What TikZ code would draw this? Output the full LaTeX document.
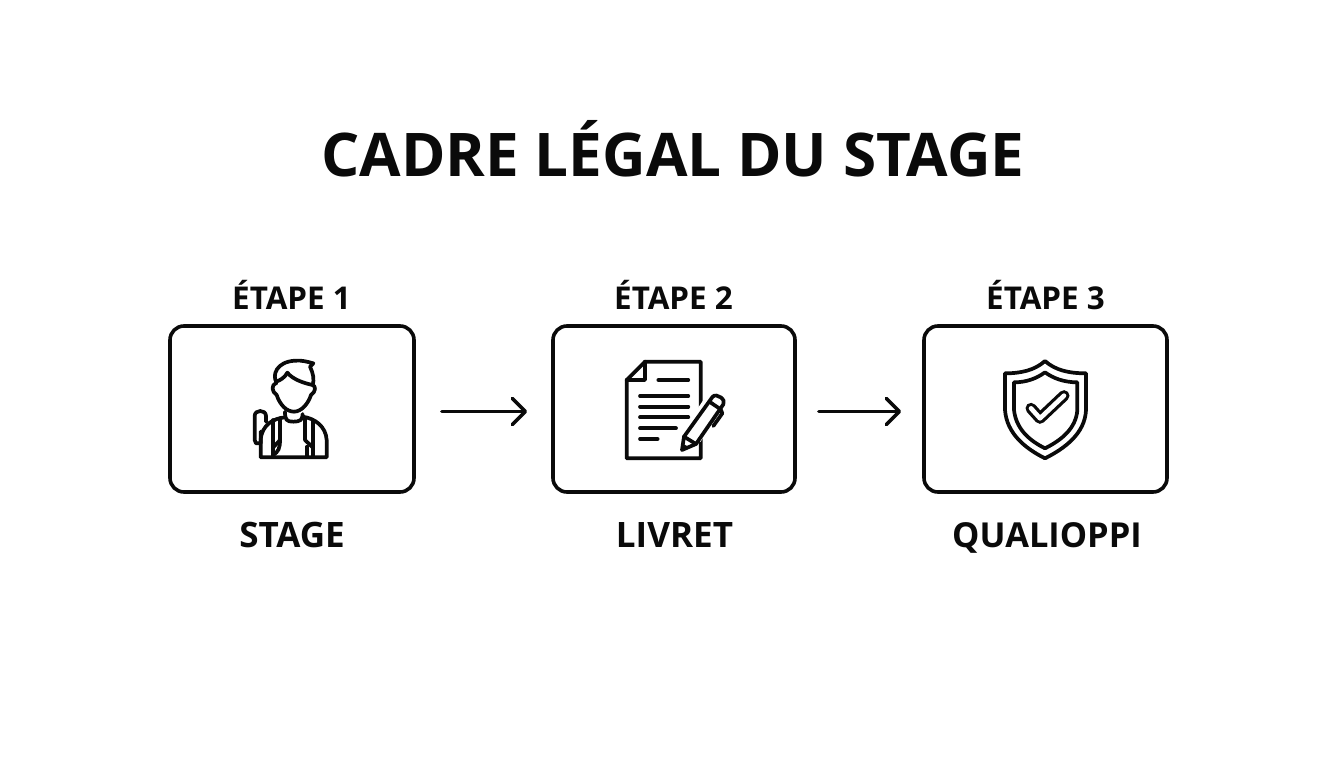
\documentclass[tikz,border=0pt]{standalone}
\usepackage{fontspec}
\setmainfont{Open Sans}
\usetikzlibrary{arrows.meta}
\definecolor{ink}{HTML}{0A0A0A}
\tikzset{
  framebox/.style={draw=ink,line width=3.6pt,rounded corners=14pt,minimum height=166pt,inner sep=0pt,fill=white},
  lab/.style={text=ink,font=\bfseries\fontsize{31.4}{34}\selectfont,inner sep=0pt,anchor=base},
  sublab/.style={text=ink,font=\bfseries\fontsize{35}{38}\selectfont,inner sep=0pt,anchor=base},
  flow/.style={draw=ink,line width=3.6pt,line cap=round,-{Straight Barb[length=13pt,width=26pt,line width=3.6pt,round]}},
  ico/.style={draw=ink,line width=3.7pt,line cap=round,line join=round},
  zoomed/.style={x=0.33333pt,y=-0.33333pt}
}
\begin{document}
\begin{tikzpicture}[x=1pt,y=-1pt]
\useasboundingbox (0,0) rectangle (1344,768);
\fill[white] (0,0) rectangle (1344,768);
\node[text=ink,font=\bfseries\fontsize{60.2}{66}\selectfont,inner sep=0pt,anchor=base] (title) at (673,176) {CADRE LÉGAL DU STAGE};

\node[framebox,minimum width=244pt] (b1) at (292,409) {};
\node[framebox,minimum width=242pt] (b2) at (674,409) {};
\node[framebox,minimum width=243pt] (b3) at (1045.5,409) {};

\node[lab] (e1) at (291.5,309.5) {ÉTAPE 1};
\node[lab] (e2) at (673.5,309.5) {ÉTAPE 2};
\node[lab] (e3) at (1045.5,309.5) {ÉTAPE 3};
\node[sublab] (l1) at (292,547) {STAGE};
\node[sublab] (l2) at (674.5,547) {LIVRET};
\node[sublab,font=\bfseries\fontsize{34.4}{38}\selectfont] (l3) at (1047,547) {QUALIOPPI};

\draw[flow,shorten <=26pt,shorten >=24pt] ([yshift=-2.5pt]b1.east) -- ([yshift=-2.5pt]b2.west);
\draw[flow,shorten <=22pt,shorten >=21pt] ([yshift=-2.5pt]b2.east) -- ([yshift=-2.5pt]b3.west);

% student
\begin{scope}[shift={(230,340)},zoomed]
  \draw[ico] (140,128) .. controls (125,105) and (140,65) .. (195,62) .. controls (215,60) and (235,66) .. (250,70) -- (240,80) .. controls (250,100) and (253,120) .. (248,135);
  \draw[ico] (137,125) .. controls (150,122) and (165,112) .. (172,98) .. controls (190,120) and (225,130) .. (248,135);
  \draw[ico] (140,128) .. controls (122,135) and (125,155) .. (140,165) .. controls (150,195) and (170,215) .. (192,215) .. controls (215,215) and (235,190) .. (243,165) .. controls (258,155) and (258,138) .. (248,135);
  \draw[ico] (165,215) .. controls (165,240) and (170,245) .. (190,245) .. controls (210,245) and (218,240) .. (218,222);
  \draw[ico] (165,232) .. controls (130,235) and (95,255) .. (92,300) -- (92,352) -- (290,352) -- (290,300) .. controls (288,260) and (255,235) .. (218,230);
  \draw[ico] (92,275) -- (92,310) -- (78,310) -- (74,300) -- (74,228) .. controls (74,208) and (108,208) .. (108,228) -- (108,245);
  \draw[ico] (130,240) -- (130,350);
  \draw[ico] (150,235) -- (150,300) -- (130,322);
  \draw[ico] (150,300) .. controls (150,325) and (145,335) .. (130,345);
  \draw[ico] (225,238) -- (225,300) -- (248,322);
  \draw[ico] (250,245) -- (250,350);
  \draw[ico] (232,320) -- (232,350);
\end{scope}

% document
\begin{scope}[shift={(610,345)},zoomed]
  \draw[ico] (50,105) -- (105,50) -- (272,50) -- (272,340) -- (50,340) -- cycle;
  \draw[ico] (105,50) -- (105,105) -- (50,105);
  \foreach \a/\b/\y in {145/235/105,90/235/153,90/235/185,90/235/217,90/198/250,90/143/282}
    \draw[ico] (\a,\y) -- (\b,\y);
  \fill[white] (240,225) -- (290,150) -- (290,260) -- (272,290) -- (240,300) -- cycle;
  \draw[ico,fill=white] (216,315) -- (222,275) -- (308,155) .. controls (320,143) and (350,165) .. (340,178) -- (258,297) -- cycle;
  \draw[ico] (222,275) -- (258,297);
  \draw[ico] (298,170) -- (332,193);
  \draw[ico] (332,193) -- (337,205) -- (310,243);
  \fill[ink] (216,315) -- (219,296) -- (236,306) -- cycle;
\end{scope}

% shield
\begin{scope}[shift={(990,345)},zoomed]
  \draw[ico] (165,48) .. controls (135,75) and (95,85) .. (45,85) -- (45,195) .. controls (50,265) and (105,310) .. (165,340) .. controls (225,310) and (285,265) .. (288,195) -- (288,85) .. controls (235,85) and (195,75) .. (165,48) -- cycle;
  \draw[ico] (165,82) .. controls (140,100) and (110,112) .. (72,112) -- (72,195) .. controls (78,250) and (115,285) .. (165,310) .. controls (215,285) and (258,250) .. (262,195) -- (262,112) .. controls (222,112) and (190,100) .. (165,82) -- cycle;
  \draw[draw=ink,line width=11pt,line cap=round,line join=round] (123,190) -- (150,220) -- (222,152);
  \draw[draw=white,line width=4.6pt,line cap=round,line join=round] (123,190) -- (150,220) -- (222,152);
\end{scope}
\end{tikzpicture}
\end{document}
